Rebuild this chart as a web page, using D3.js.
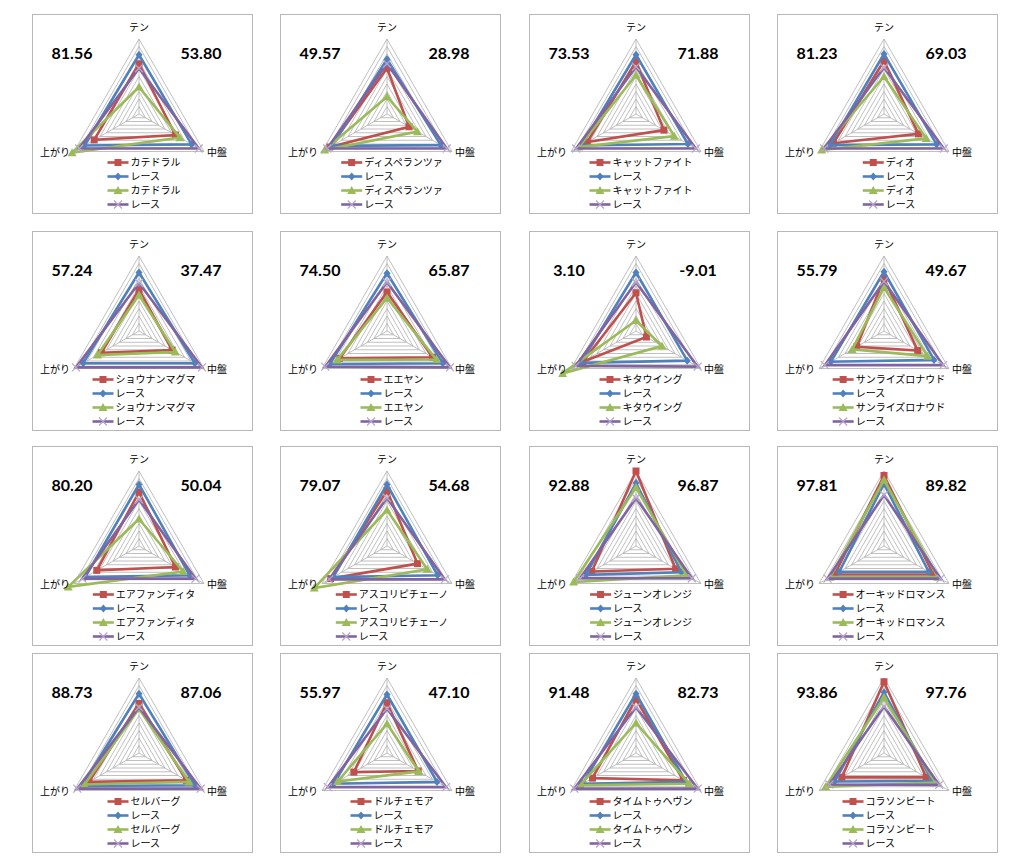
<!DOCTYPE html>
<html><head><meta charset="utf-8">
<script src="https://cdn.jsdelivr.net/npm/d3@7"></script>
<style>body{margin:0;background:#fff}</style>
</head><body>
<svg id="c" width="1024" height="866"></svg>
<script>
const axes = ["テン", "中盤", "上がり"];
const horses = ["カテドラル","ディスペランツァ","キャットファイト","ディオ",
  "ショウナンマグマ","エエヤン","キタウイング","サンライズロナウド",
  "エアファンディタ","アスコリピチェーノ","ジューンオレンジ","オーキッドロマンス",
  "セルバーグ","ドルチェモア","タイムトゥヘヴン","コラソンビート"];
const leftScores = ["81.56","49.57","73.53","81.23","57.24","74.50","3.10","55.79",
  "80.20","79.07","92.88","97.81","88.73","55.97","91.48","93.86"];
const rightScores = ["53.80","28.98","71.88","69.03","37.47","65.87","-9.01","49.67",
  "50.04","54.68","96.87","89.82","87.06","47.10","82.73","97.76"];
// values per panel: [テン, 中盤, 上がり]
const horseA = [[67,56,69],[61,34,88],[70,43,75],[71,53,78],
  [55,51,58],[52,70,73],[51,16,82],[70,52,42],
  [72,56,65],[74,47,87],[100,61,68],[94,76,76],
  [66,73,77],[67,48,51],[72,73,67],[95,65,65]];
const raceA = [[79,81,84],[73,83,85],[79,80,84],[80,81,83],
  [78,86,86],[77,86,88],[78,79,85],[79,77,82],
  [82,78,83],[82,78,83],[84,70,77],[83,69,69],
  [79,86,88],[78,77,82],[79,77,82],[81,74,76]];
const horseB = [[36,63,103],[23,47,96],[52,59,88],[50,65,96],
  [48,56,64],[44,76,77],[14,40,113],[58,67,49],
  [36,68,109],[48,62,112],[78,78,96],[88,83,83],
  [59,77,84],[39,49,76],[40,82,86],[74,79,90]];
const raceB = [[61,92,92],[67,92,92],[63,92,92],[62,92,92],
  [64,97,97],[65,97,95],[65,95,93],[66,91,91],
  [62,87,87],[64,89,89],[64,86,86],[68,87,87],
  [61,95,95],[59,91,91],[61,95,95],[62,85,84]];

const colors = ["#C0504D","#4F81BD","#9BBB59","#8064A2"];
const svg = d3.select("#c");
const colLeft = [32, 280, 529, 777];
const rowTop = [14, 231, 446, 653];
const PW = 220, PH = 199, R = 75;
const r = d3.scaleLinear().domain([0,100]).range([0,R]);
const ang = i => -Math.PI/2 + i*2*Math.PI/3;
const pt = (v,i) => [r(v)*Math.cos(ang(i)), r(v)*Math.sin(ang(i))];
const rings = d3.range(10,101,10);

function marker(g, k, x, y){
  const c = colors[k];
  if(k===0) g.append("rect").attr("x",x-3.5).attr("y",y-3.5).attr("width",7).attr("height",7).attr("fill",c);
  else if(k===1) g.append("path").attr("d",`M${x},${y-4}L${x+3.5},${y}L${x},${y+4}L${x-3.5},${y}Z`).attr("fill",c);
  else if(k===2) g.append("path").attr("d",`M${x},${y-4.5}L${x+4.5},${y+3.5}L${x-4.5},${y+3.5}Z`).attr("fill",c);
  else g.append("path").attr("d",`M${x-4},${y-4}L${x+4},${y+4}M${x-4},${y+4}L${x+4},${y-4}`).attr("stroke","#B7A6CC").attr("stroke-width",1.2);
}

horses.forEach((h,p)=>{
  const L = colLeft[p%4], T = rowTop[Math.floor(p/4)];
  const g = svg.append("g");
  g.append("rect").attr("x",L+0.5).attr("y",T+0.5).attr("width",PW).attr("height",PH)
    .attr("fill","#fff").attr("stroke","#b8b8b8").attr("stroke-width",1);
  const cx = L+107, cy = T+100;
  const c = g.append("g").attr("transform",`translate(${cx},${cy})`);
  rings.forEach(v=>{
    c.append("path").attr("d", d3.line()([0,1,2,0].map(i=>pt(v,i))))
      .attr("fill","none").attr("stroke","#b0b0b0").attr("stroke-width",0.8);
  });
  [0,1,2].forEach(i=>{
    const e = pt(100,i);
    c.append("line").attr("x1",0).attr("y1",0).attr("x2",e[0]).attr("y2",e[1])
      .attr("stroke","#b0b0b0").attr("stroke-width",0.8);
  });
  const series = [horseA[p], raceA[p], horseB[p], raceB[p]];
  series.forEach((vals,k)=>{
    const pts = [0,1,2,0].map(i=>pt(vals[i],i));
    c.append("path").attr("d", d3.line()(pts)).attr("fill","none")
      .attr("stroke",colors[k]).attr("stroke-width",2.6).attr("stroke-linejoin","miter");
    [0,1,2].forEach(i=>{ const q = pt(vals[i],i); marker(c,k,q[0],q[1]); });
  });
  const f = "'Noto Sans CJK JP', sans-serif";
  const top = pt(100,0), rt = pt(100,1), lf = pt(100,2);
  c.append("text").attr("x",0).attr("y",top[1]-8).attr("text-anchor","middle")
    .attr("font-family",f).attr("font-size",10).text(axes[0]);
  c.append("text").attr("x",rt[0]+3).attr("y",rt[1]+4).attr("text-anchor","start")
    .attr("font-family",f).attr("font-size",10).text(axes[1]);
  c.append("text").attr("x",lf[0]-4).attr("y",lf[1]+4).attr("text-anchor","end")
    .attr("font-family",f).attr("font-size",10).text(axes[2]);
  // scores
  g.append("text").attr("x",L+40).attr("y",T+45).attr("text-anchor","middle")
    .attr("font-family","Lato, sans-serif").attr("font-weight","bold").attr("font-size",16).text(leftScores[p]);
  g.append("text").attr("x",L+169).attr("y",T+45).attr("text-anchor","middle")
    .attr("font-family","Lato, sans-serif").attr("font-weight","bold").attr("font-size",16).text(rightScores[p]);
  // legend
  const names = [h, "レース", h, "レース"];
  const lg = g.append("g");
  const items = names.map((n,k)=>{
    const y = cy + 37.5 + 11 + 14*k;
    const it = lg.append("g");
    it.append("line").attr("x1",0).attr("x2",21).attr("y1",y).attr("y2",y)
      .attr("stroke",colors[k]).attr("stroke-width",2.6);
    marker(it,k,10.5,y);
    it.append("text").attr("x",23).attr("y",y+3.6).attr("font-family",f).attr("font-size",10).text(n);
    return it;
  });
  const bb = lg.node().getBBox();
  lg.attr("transform",`translate(${cx+5-bb.width/2},0)`);
});
</script>
</body></html>
